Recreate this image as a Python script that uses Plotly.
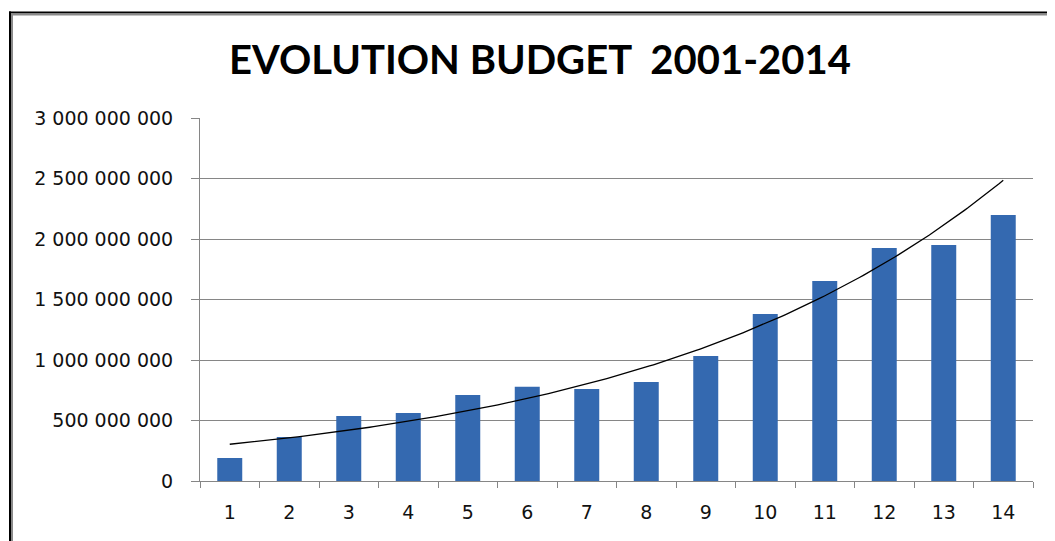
import numpy as np
import plotly.graph_objects as go

years = [str(i) for i in range(1, 15)]
budget = [
    190e6, 364e6, 537e6, 562e6, 711e6, 779e6, 760e6,
    818e6, 1033e6, 1380e6, 1653e6, 1926e6, 1950e6, 2198e6,
]
y_ticks = [0, 5e8, 1e9, 1.5e9, 2e9, 2.5e9, 3e9]

# page body has an 8px margin, so the figure starts at (8, 8) on screen
OFF = 8
W, H = 1055, 541
L, R, T, B = 200 - OFF, W - (1033 - OFF), 118 - OFF, H - (481 - OFF)
pw, ph = W - L - R, H - T - B


def px_x(px):
    return (px - OFF - L) / pw


def px_y(py):
    return (H - B - (py - OFF)) / ph


# exponential trendline (least squares on log values, like Excel)
xn = np.arange(1, len(budget) + 1)
slope, icpt = np.polyfit(xn, np.log(budget), 1)
trend_x = np.linspace(1, len(budget), 200)
trend_y = np.exp(icpt + slope * trend_x)

fig = go.Figure()

fig.add_trace(go.Bar(
    x=years,
    y=budget,
    marker=dict(color="#3469B0", line=dict(width=0)),
    showlegend=False,
))

fig.add_trace(go.Scatter(
    x=trend_x,
    y=trend_y,
    xaxis="x2",
    mode="lines",
    line=dict(color="black", width=1.3),
    showlegend=False,
))

axis_grey = "#868686"
label_font = dict(family="DejaVu Sans", size=19, color="#111111")

fig.update_layout(
    width=W,
    height=H,
    margin=dict(l=L, r=R, t=T, b=B, autoexpand=False),
    paper_bgcolor="white",
    plot_bgcolor="white",
    separators=", ",
    bargap=0.58,
    title=dict(
        text="<b>EVOLUTION BUDGET  2001-2014</b>",
        x=(540 - OFF) / W,
        xanchor="center",
        y=1 - (60 - OFF) / H,
        yanchor="middle",
        font=dict(family="Lato", size=40, color="black"),
    ),
    xaxis=dict(
        type="category",
        tickson="boundaries",
        ticks="outside",
        ticklen=6,
        tickcolor=axis_grey,
        showline=True,
        linecolor=axis_grey,
        showgrid=False,
        tickfont=label_font,
        ticklabelstandoff=14,
    ),
    xaxis2=dict(
        overlaying="x",
        range=[0.5, len(budget) + 0.5],
        visible=False,
    ),
    yaxis=dict(
        range=[0, 3e9],
        tickvals=y_ticks,
        tickformat=",d",
        ticks="outside",
        ticklen=8,
        tickcolor=axis_grey,
        showline=True,
        linecolor=axis_grey,
        showgrid=True,
        gridcolor=axis_grey,
        gridwidth=1,
        zeroline=False,
        tickfont=label_font,
        ticklabelstandoff=14,
    ),
)

# chart frame (top and left edges visible)
fig.add_shape(type="line", xref="paper", yref="paper",
              x0=px_x(9), x1=px_x(1070), y0=px_y(12.5), y1=px_y(12.5),
              line=dict(color="black", width=2))
fig.add_shape(type="line", xref="paper", yref="paper",
              x0=px_x(11), x1=px_x(1070), y0=px_y(14.5), y1=px_y(14.5),
              line=dict(color="#8a8a8a", width=2))
fig.add_shape(type="line", xref="paper", yref="paper",
              x0=px_x(10), x1=px_x(10), y0=px_y(11.5), y1=px_y(560),
              line=dict(color="black", width=2))
fig.add_shape(type="line", xref="paper", yref="paper",
              x0=px_x(12), x1=px_x(12), y0=px_y(13.5), y1=px_y(560),
              line=dict(color="#8a8a8a", width=2))

fig.write_html("out.html")
